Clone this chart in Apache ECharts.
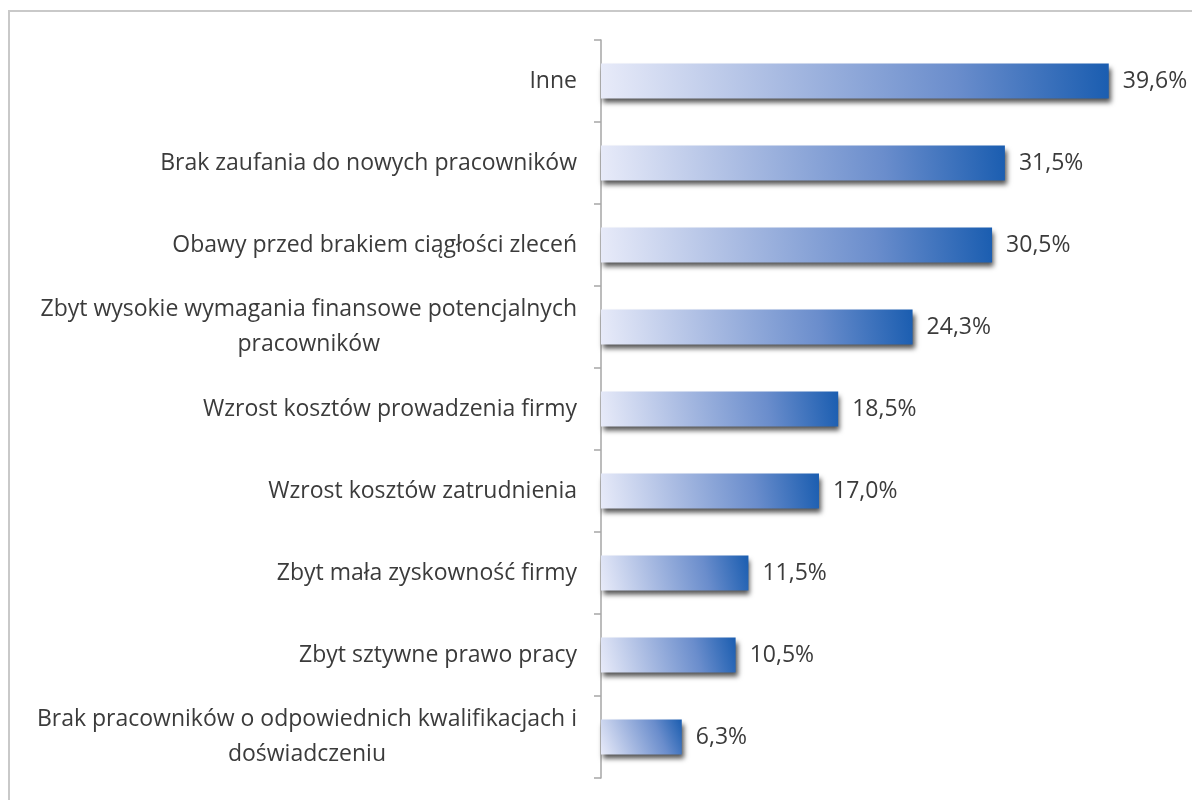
<!DOCTYPE html>
<html>
<head>
<meta charset="utf-8">
<script src="https://cdn.jsdelivr.net/npm/echarts@6/dist/echarts.min.js"></script>
<style>
  html, body { margin: 0; padding: 0; background: #ffffff; }
  #chart { width: 1192px; height: 800px; }
</style>
</head>
<body>
<div id="chart"></div>
<script>
// Reasons listed from the top of the chart downwards
const categories = [
  'Inne',
  'Brak zaufania do nowych pracowników',
  'Obawy przed brakiem ciągłości zleceń',
  'Zbyt wysokie wymagania finansowe potencjalnych\npracowników',
  'Wzrost kosztów prowadzenia firmy',
  'Wzrost kosztów zatrudnienia',
  'Zbyt mała zyskowność firmy',
  'Zbyt sztywne prawo pracy',
  'Brak pracowników o odpowiednich kwalifikacjach i\ndoświadczeniu'
];
const shares = [39.6, 31.5, 30.5, 24.3, 18.5, 17.0, 11.5, 10.5, 6.3];

const FONT = '"Open Sans", sans-serif';
const TEXT = '#3b3b3b';
const SIZE = 23;

const chart = echarts.init(document.getElementById('chart'));

chart.setOption({
  backgroundColor: '#ffffff',
  animation: false,
  graphic: [{
    type: 'rect',
    shape: { x: 9, y: 11, width: 1220, height: 820 },
    style: { fill: 'none', stroke: '#c9c9c9', lineWidth: 2 },
    silent: true
  }],
  grid: { left: 601, right: 14, top: 40, bottom: 22 },
  xAxis: {
    type: 'value',
    min: 0,
    max: 45,
    show: false
  },
  yAxis: {
    type: 'category',
    data: categories,
    inverse: true,
    axisLine: { show: true, lineStyle: { color: '#a6a6a6', width: 1.5 } },
    axisTick: { show: true, alignWithLabel: false, length: 7, lineStyle: { color: '#a6a6a6', width: 1.5 } },
    axisLabel: {
      margin: 24,
      fontFamily: FONT,
      fontSize: SIZE,
      color: TEXT,
      lineHeight: 35,
      formatter: function (v) {
        return v.split('\n').map(function (l) { return '{c|' + l + '}'; }).join('\n');
      },
      rich: {
        c: { align: 'center', fontFamily: FONT, fontSize: SIZE, color: TEXT, lineHeight: 35 }
      }
    }
  },
  series: [{
    type: 'bar',
    data: shares,
    barWidth: 35,
    itemStyle: {
      color: new echarts.graphic.LinearGradient(0, 1, 1, 0, [
        { offset: 0, color: '#e8ebf9' },
        { offset: 0.35, color: '#a9bbe2' },
        { offset: 0.7, color: '#6a8dcc' },
        { offset: 1, color: '#1a5db0' }
      ]),
      shadowColor: 'rgba(40,40,40,0.8)',
      shadowBlur: 5,
      shadowOffsetX: 2,
      shadowOffsetY: 4
    },
    label: {
      show: true,
      position: 'right',
      distance: 14,
      fontFamily: FONT,
      fontSize: SIZE,
      color: TEXT,
      formatter: function (p) {
        return p.value.toFixed(1).replace('.', ',') + '%';
      }
    }
  }]
});
</script>
</body>
</html>
